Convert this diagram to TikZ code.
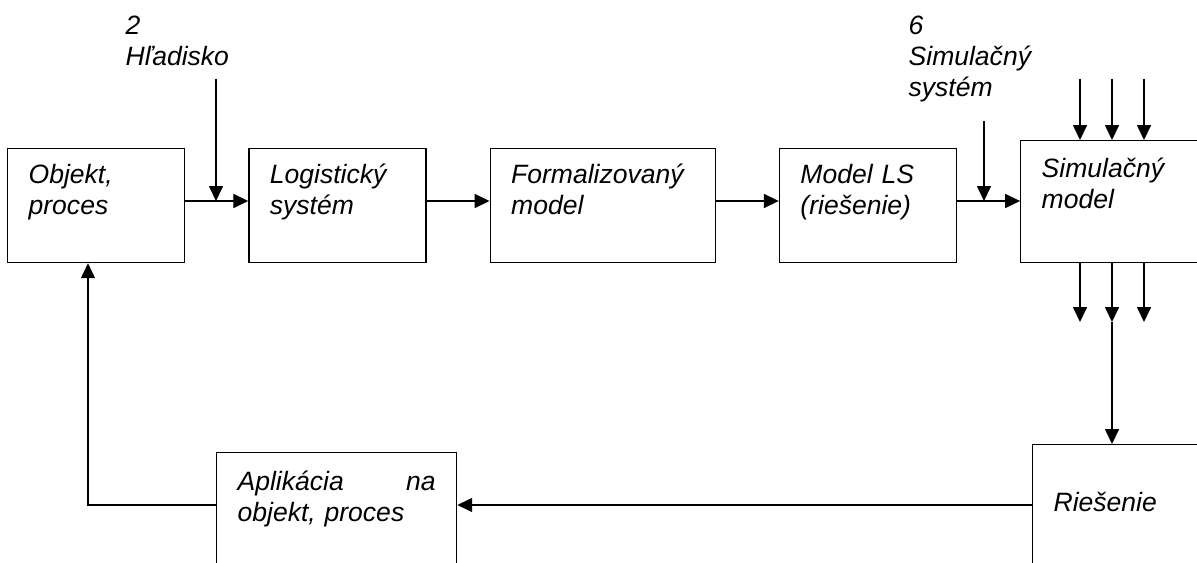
\documentclass[tikz,border=0pt]{standalone}
\usepackage{fontspec}
\setmainfont{Liberation Sans}
\usetikzlibrary{arrows.meta,positioning}

\newcommand{\diagfont}{\fontsize{15.1pt}{17.6pt}\selectfont\itshape}

\begin{document}
\begin{tikzpicture}[x=0.02cm,y=-0.02cm,->,>={Triangle[length=8.5pt,width=8pt]},
  line width=.75pt,node distance=1.26cm,
  box node/.style={rectangle,draw,font=\diagfont,align=left,
    inner xsep=0.42cm,inner ysep=0pt,text height=0.69cm,text depth=1.59cm,
    text width=2.7cm},
  label node/.style={rectangle,font=\diagfont,align=left,inner sep=0pt,
    text width=4cm,anchor=base west}]

  \path[use as bounding box,clip] (0,0) rectangle (1197,563);

  \node[box node,anchor=north west] (OBJ) at (7,148) {Objekt,\\proces};
  \node[box node,right=of OBJ] (LOG) {Logistický\\systém};
  \node[box node,text width=3.66cm,right=of LOG] (FORM) {Formalizovaný\\model};
  \node[box node,right=of FORM] (MLS) {Model LS\\(riešenie)};
  \node[box node,text height=0.73cm,text depth=1.71cm,
    right=of MLS.south east,anchor=south west] (SIM) {Simulačný\\model};
  \node[box node,text width=3.96cm,text height=0.75cm,text depth=1.65cm,
    anchor=north west] (APL) at (216,452) {Aplikácia\hfill na\\objekt, proces};
  \node[box node,text width=3.16cm,text height=1.34cm,text depth=1.06cm,
    anchor=north west] (RIES) at (1032,444) {Riešenie};

  \node[label node] (HLAD) at (125,34.5) {2\\Hľadisko};
  \node[label node] (SIMSYS) at (908,34.5) {6\\Simulačný\\systém};

  \coordinate (ROW) at (0,201);
  \coordinate (BACK) at (88,505);
  \coordinate (HLIN) at (216,79);
  \coordinate (SSIN) at (984,121);

  \foreach \a/\b in {OBJ/LOG,LOG/FORM,FORM/MLS,MLS/SIM}
    \draw (\a.east |- ROW) -- (\b.west |- ROW);
  \draw (HLIN) -- (HLIN |- ROW);
  \draw (SSIN) -- (SSIN |- ROW);
  \foreach \i/\x in {1/1080,2/1112,3/1144} {
    \coordinate (IN\i) at (\x,79);
    \coordinate (OUT\i) at (\x,322);
    \draw (IN\i) -- (IN\i |- SIM.north);
    \draw (OUT\i |- SIM.south) -- (OUT\i);
  }
  \draw (OUT2) -- (OUT2 |- RIES.north);
  \draw (RIES.west |- BACK) -- (APL.east |- BACK);
  \draw (APL.west |- BACK) -- (BACK) -- (BACK |- OBJ.south);
\end{tikzpicture}
\end{document}
